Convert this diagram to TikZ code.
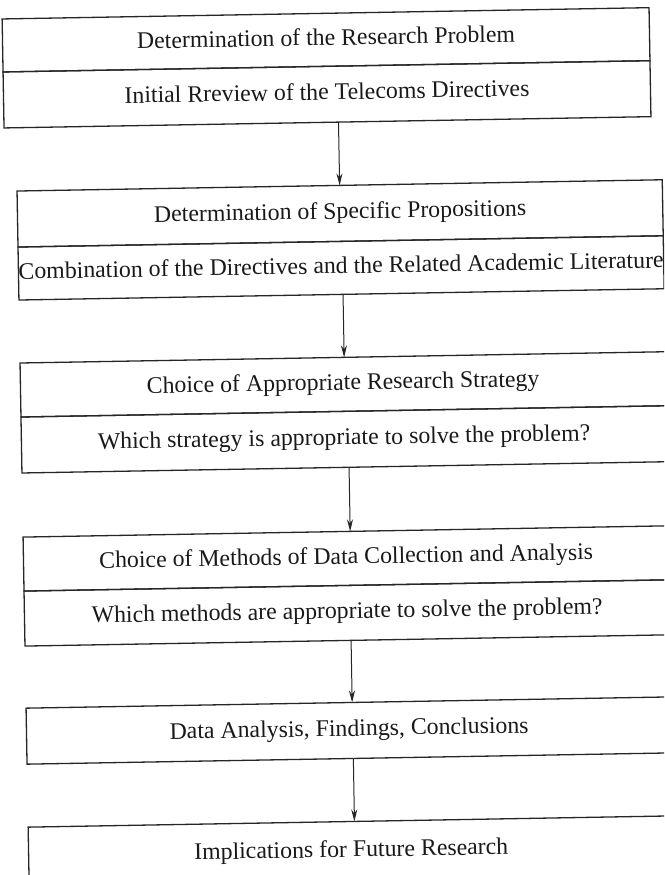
\documentclass[tikz,border=0pt]{standalone}
\usepackage{fontspec}
\setmainfont{Liberation Serif}
\usetikzlibrary{arrows.meta,positioning,calc}
\begin{document}
\begin{tikzpicture}[x=1pt,y=1pt,
  row/.style={draw=black!85, line width=1.3pt, rectangle, inner sep=0pt, outer sep=0pt,
    font=\fontsize{23.8}{28}\selectfont, text=black!90, text height=16pt, text depth=5pt},
  arr/.style={draw=black!85, line width=1pt, -{Stealth[length=12pt,width=6pt]}}]
\useasboundingbox (0,0) rectangle (664,-875);
\clip (0,0) rectangle (664,-875);
\begin{scope}[rotate around={1:(0,0)}, transform shape]
% box 1
\node[row, minimum width=647pt, minimum height=53pt] (b1a) at (325.3,-45.5) {Determination of the Research Problem};
\node[row, minimum width=647pt, minimum height=56pt, anchor=north] (b1b) at (b1a.south) {Initial Rreview of the Telecoms Directives};
% box 2
\node[row, minimum width=645.3pt, minimum height=56pt] (b2a) at (336.35,-219.3) {Determination of Specific Propositions};
\node[row, minimum width=645.3pt, minimum height=53pt, anchor=north] (b2b) at (b2a.south) {Combination of the Directives and the Related Academic Literature};
% box 3
\node[row, minimum width=645.3pt, minimum height=54pt] (b3a) at (336.35,-390.3) {Choice of Appropriate Research Strategy};
\node[row, minimum width=645.3pt, minimum height=56pt, anchor=north] (b3b) at (b3a.south) {Which strategy is appropriate to solve the problem?};
% box 4
\node[row, minimum width=645.3pt, minimum height=54pt] (b4a) at (336.35,-564.4) {Choice of Methods of Data Collection and Analysis};
\node[row, minimum width=645.3pt, minimum height=55pt, anchor=north] (b4b) at (b4a.south) {Which methods are appropriate to solve the problem?};
% box 5
\node[row, minimum width=645.3pt, minimum height=56pt] (b5) at (336.35,-736.5) {Data Analysis, Findings, Conclusions};
% box 6
\node[row, minimum width=645.3pt, minimum height=60pt] (b6) at (336.35,-857.5) {Implications for Future Research};
% arrows
\draw[arr] ($(b1b.south)+(11,0)$) -- (b2a.north);
\draw[arr] ($(b2b.south)+(1.5,0)$) -- ($(b3a.north)+(1.5,0)$);
\draw[arr] ($(b3b.south)+(4.5,0)$) -- ($(b4a.north)+(4.5,0)$);
\draw[arr] ($(b4b.south)+(3.5,0)$) -- ($(b5.north)+(3.5,0)$);
\draw[arr] ($(b5.south)+(3.7,0)$) -- ($(b6.north)+(3.7,0)$);
\end{scope}
\end{tikzpicture}
\end{document}
